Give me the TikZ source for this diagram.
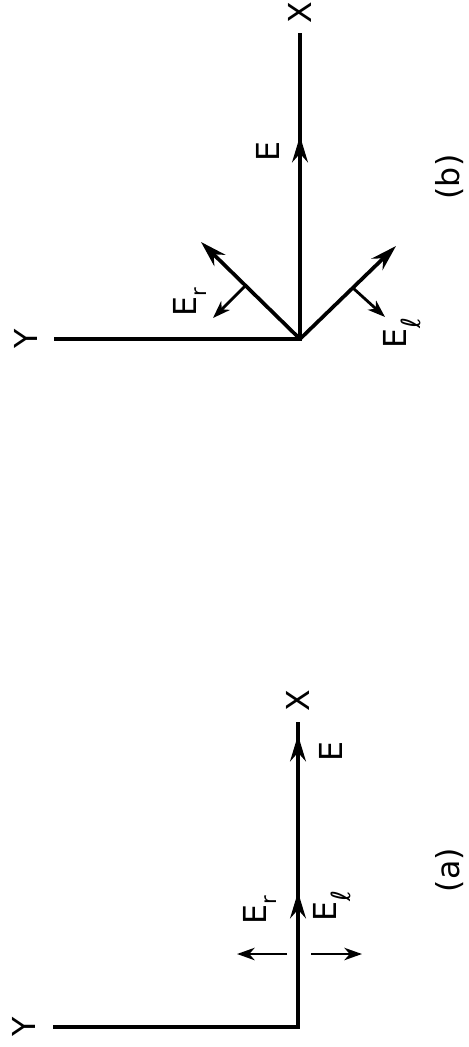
\documentclass[tikz,border=0pt]{standalone}
\usepackage{fontspec}
\setsansfont{DejaVu Sans}
\usetikzlibrary{arrows.meta,calc}
\newcommand{\subr}{\raisebox{-0.55ex}{\fontsize{12}{12}\selectfont r}}
\newcommand{\subl}{\raisebox{-0.8ex}{\fontsize{15}{15}\selectfont ℓ}}
\tikzset{
  axisline/.style={line width=2.1pt},
  fieldvec/.style={line width=2.1pt,-{Stealth[length=15pt,width=9pt,inset=5pt]}},
  polvec/.style={line width=1.6pt,-{Stealth[length=10pt,width=7pt,inset=3pt]}},
  lbl/.style={font=\sffamily\fontsize{18}{20}\selectfont,rotate=90,inner sep=0pt},
}

\begin{document}
\begin{tikzpicture}[x=0.02cm,y=-0.02cm]
\useasboundingbox (0,0) rectangle (469,1047);
% panel (b)
\coordinate (ob) at (300,339);
\coordinate (xb) at (300,33);
\coordinate (yb) at (54,339);
\coordinate (eb) at (300,136);
\coordinate (rb) at (201,242);
\coordinate (lb) at (396,246);
\coordinate (rbtip) at (213,318);
\coordinate (lbtip) at (385,317);
\node[lbl] (xlabb) at (300,13) {X};
\node[lbl] (ylabb) at (26,339) {Y};
\draw[axisline] (yb) -- (ob) -- (xb);
\draw[fieldvec] (ob) -- (eb);
\draw[fieldvec] (ob) -- (rb);
\draw[fieldvec] (ob) -- (lb);
\draw[polvec] ($(ob)!0.55!(rb)$) -- (rbtip);
\draw[polvec] ($(ob)!0.55!(lb)$) -- (lbtip);
\node[lbl] (elabb) at (268,152) {E};
\node[lbl] (erlabb) at (190,302) {E\subr};
\node[lbl] (ellabb) at (402,333) {E\subl};
\node[lbl] (capb) at (450,177) {(b)};
% panel (a)
\coordinate (oa) at (298,1027);
\coordinate (xa) at (298,722);
\coordinate (ya) at (53,1027);
\coordinate (ea) at (298,735);
\coordinate (ma) at (298,892);
\coordinate (pa) at (298,954);
\coordinate (rtip) at (237,954);
\coordinate (ltip) at (362,954);
\node[lbl] (xlaba) at (298,701) {X};
\node[lbl] (ylaba) at (24,1027) {Y};
\draw[axisline] (ya) -- (oa) -- (xa);
\draw[fieldvec] (oa) -- (ea);
\draw[fieldvec] (oa) -- (ma);
\draw[polvec] ($(pa)+(-11,0)$) -- (rtip);
\draw[polvec] ($(pa)+(13,0)$) -- (ltip);
\node[lbl] (elaba) at (331,752) {E};
\node[lbl] (erlaba) at (260,910) {E\subr};
\node[lbl] (ellaba) at (332,906) {E\subl};
\node[lbl] (capa) at (450,870) {(a)};
\end{tikzpicture}
\end{document}
